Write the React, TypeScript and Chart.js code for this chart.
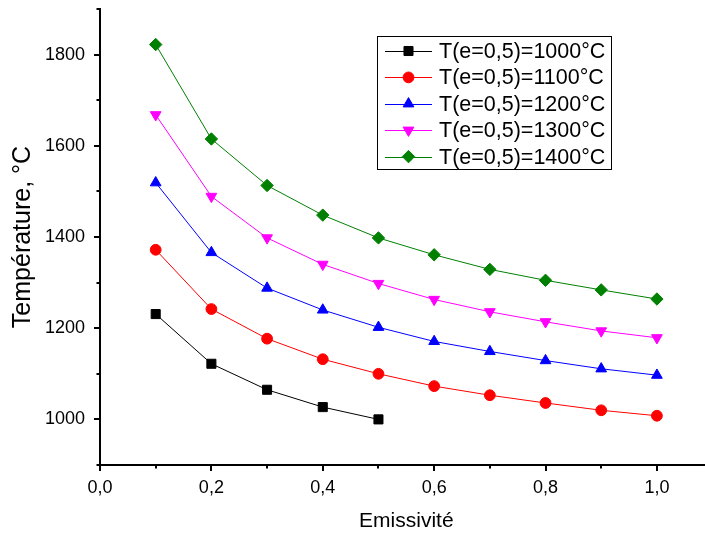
import React, { useEffect, useRef } from 'react';
import { Chart, registerables } from 'chart.js';
import { drawPoint } from 'chart.js/helpers';

Chart.register(...registerables);

const emissivity = [0.1, 0.2, 0.3, 0.4, 0.5, 0.6, 0.7, 0.8, 0.9, 1.0];
const t1000 = [1231, 1122, 1065, 1027, 1000];
const t1100 = [1372, 1242, 1177, 1132, 1100, 1073, 1053, 1036, 1020, 1008];
const t1200 = [1519, 1366, 1288, 1240, 1202, 1171, 1149, 1129, 1111, 1097];
const t1300 = [1668, 1489, 1398, 1340, 1298, 1263, 1236, 1214, 1194, 1179];
const t1400 = [1822, 1615, 1513, 1448, 1398, 1361, 1329, 1305, 1284, 1264];

const seriesLabels = [
  'T(e=0,5)=1000°C',
  'T(e=0,5)=1100°C',
  'T(e=0,5)=1200°C',
  'T(e=0,5)=1300°C',
  'T(e=0,5)=1400°C',
];
const seriesColors = ['#000000', '#FF0000', '#0000FF', '#FF00FF', '#008000'];
const seriesStyles = ['rect', 'circle', 'triangle', 'triangle', 'rectRot'];
const seriesRotations = [0, 0, 0, 180, 0];
const seriesRadii = [6.4, 5.4, 6.2, 6.2, 6.2];

const xTickLabels = [0, 0.2, 0.4, 0.6, 0.8, 1.0];
const xMinorTicks = [0.1, 0.3, 0.5, 0.7, 0.9, 1.1];
const yTickLabels = [1000, 1200, 1400, 1600, 1800];
const yMinorTicks = [900, 1100, 1300, 1500, 1700, 1900];

const FONT = "'Liberation Sans', Arial, sans-serif";

const tickMarksPlugin = {
  id: 'tickMarks',
  afterDraw(chart: any) {
    const { ctx, chartArea, scales } = chart;
    const xs = scales.x;
    const ys = scales.y;
    ctx.save();
    ctx.strokeStyle = '#000';
    ctx.lineWidth = 2;
    const drawX = (v: number, len: number) => {
      const p = Math.round(xs.getPixelForValue(v));
      ctx.beginPath();
      ctx.moveTo(p, chartArea.bottom);
      ctx.lineTo(p, chartArea.bottom + len);
      ctx.stroke();
    };
    const drawY = (v: number, len: number) => {
      const p = Math.round(ys.getPixelForValue(v));
      ctx.beginPath();
      ctx.moveTo(chartArea.left, p);
      ctx.lineTo(chartArea.left - len, p);
      ctx.stroke();
    };
    xTickLabels.forEach((v) => drawX(v, 6));
    xMinorTicks.forEach((v) => drawX(v, 3.5));
    yTickLabels.forEach((v) => drawY(v, 6));
    yMinorTicks.forEach((v) => drawY(v, 3.5));
    ctx.restore();
  },
};

const legendPlugin = {
  id: 'boxLegend',
  afterDraw(chart: any) {
    const { ctx } = chart;
    const left = 377;
    const top = 36;
    const right = 611;
    const bottom = 169;
    const row0 = 51;
    const rowStep = 26.4;
    ctx.save();
    ctx.fillStyle = '#fff';
    ctx.fillRect(left, top, right - left, bottom - top);
    ctx.strokeStyle = '#000';
    ctx.lineWidth = 1;
    ctx.strokeRect(left + 0.5, top + 0.5, right - left, bottom - top);
    chart.data.datasets.forEach((ds: any, i: number) => {
      const y = row0 + i * rowStep;
      ctx.strokeStyle = ds.borderColor;
      ctx.lineWidth = 1;
      ctx.beginPath();
      ctx.moveTo(385, Math.round(y) + 0.5);
      ctx.lineTo(432, Math.round(y) + 0.5);
      ctx.stroke();
      ctx.fillStyle = ds.pointBackgroundColor;
      ctx.strokeStyle = ds.pointBorderColor;
      ctx.lineWidth = ds.pointBorderWidth;
      drawPoint(
        ctx,
        {
          pointStyle: ds.pointStyle,
          rotation: ds.pointRotation,
          radius: ds.pointRadius,
          borderWidth: ds.pointBorderWidth,
        },
        408.5,
        y
      );
      ctx.fillStyle = '#000';
      ctx.font = `21.5px ${FONT}`;
      ctx.textBaseline = 'middle';
      ctx.textAlign = 'left';
      ctx.fillText(ds.label, 439, y + 1);
    });
    ctx.restore();
  },
};

export default function App() {
  const canvasRef = useRef<HTMLCanvasElement | null>(null);

  useEffect(() => {
    if (!canvasRef.current) return;
    const allSeries = [t1000, t1100, t1200, t1300, t1400];
    const datasets = allSeries.map((vals, i) => ({
      label: seriesLabels[i],
      data: vals.map((v, j) => ({ x: emissivity[j], y: v })),
      borderColor: seriesColors[i],
      backgroundColor: seriesColors[i],
      pointBackgroundColor: seriesColors[i],
      pointBorderColor: seriesColors[i],
      pointBorderWidth: 1,
      pointStyle: seriesStyles[i],
      pointRotation: seriesRotations[i],
      pointRadius: seriesRadii[i],
      borderWidth: 1,
      showLine: true,
      tension: 0,
    }));

    const chart = new Chart(canvasRef.current, {
      type: 'scatter',
      data: { datasets },
      options: {
        responsive: false,
        animation: false,
        devicePixelRatio: 1,
        layout: { padding: { left: 0, top: 9, right: 6.75, bottom: 0 } },
        plugins: {
          legend: { display: false },
          tooltip: { enabled: false },
        },
        scales: {
          x: {
            type: 'linear',
            min: 0,
            max: 1.1,
            grid: { display: false, drawTicks: false, tickLength: 0 },
            border: { display: true, color: '#000', width: 2 },
            afterBuildTicks: (scale: any) => {
              scale.ticks = xTickLabels.map((v) => ({ value: v }));
            },
            afterFit: (scale: any) => {
              scale.height = 71;
              scale.paddingLeft = 0;
              scale.paddingRight = 0;
            },
            ticks: {
              color: '#000',
              font: { family: FONT, size: 18 },
              padding: 12,
              maxRotation: 0,
              autoSkip: false,
              callback: (v: any) => Number(v).toFixed(1).replace('.', ','),
            },
            title: {
              display: true,
              text: 'Emissivité',
              color: '#000',
              font: { family: FONT, size: 21 },
              padding: { top: 0, bottom: 2.4 },
            },
          },
          y: {
            type: 'linear',
            min: 900,
            max: 1900,
            grid: { display: false, drawTicks: false, tickLength: 0 },
            border: { display: true, color: '#000', width: 2 },
            afterBuildTicks: (scale: any) => {
              scale.ticks = yTickLabels.map((v) => ({ value: v }));
            },
            afterFit: (scale: any) => {
              scale.width = 100;
              scale.paddingTop = 0;
              scale.paddingBottom = 0;
            },
            ticks: {
              color: '#000',
              font: { family: FONT, size: 18 },
              padding: 15,
              autoSkip: false,
              callback: (v: any) => String(v),
            },
            title: {
              display: true,
              text: 'Température, °C',
              color: '#000',
              font: { family: FONT, size: 25 },
              padding: { top: 8.5, bottom: 0 },
            },
          },
        },
      },
      plugins: [tickMarksPlugin, legendPlugin],
    } as any);

    return () => chart.destroy();
  }, []);

  return (
    <div
      style={{
        position: 'fixed',
        left: 0,
        top: 0,
        width: 705,
        height: 536,
        overflow: 'hidden',
        background: '#fff',
      }}
    >
      <canvas ref={canvasRef} width={720} height={536} style={{ display: 'block' }} />
    </div>
  );
}
